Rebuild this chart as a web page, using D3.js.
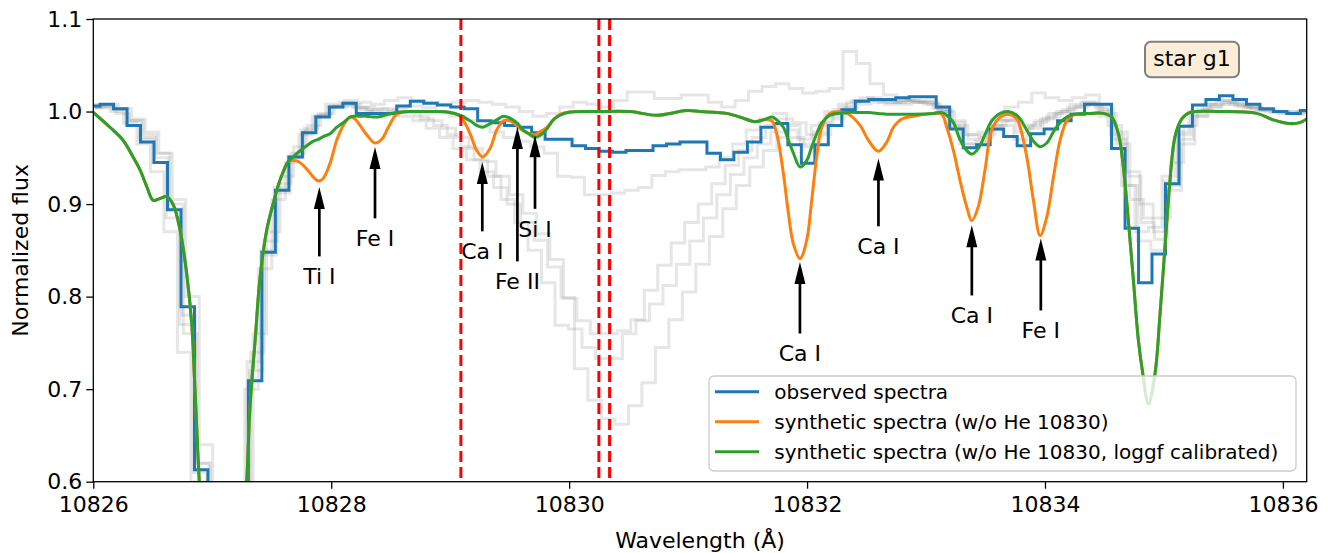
<!DOCTYPE html>
<html>
<head lang="en">
<meta charset="UTF-8">
<title>star g1 spectrum</title>
<script src="https://cdnjs.cloudflare.com/ajax/libs/d3/7.8.5/d3.min.js"></script>
<style>
body { margin: 0; background: white; }
svg text { font-family: "DejaVu Sans", sans-serif; fill: black; }
</style>
</head>
<body>
<div id="chart"></div>
<script>

// observed pixel grid (Angstrom)
var obsWave = [10826.000, 10826.113, 10826.227, 10826.340, 10826.453, 10826.567, 10826.680, 10826.794, 10826.907,
    10827.020, 10827.134, 10827.247, 10827.360, 10827.474, 10827.587, 10827.701, 10827.814, 10827.927,
    10828.041, 10828.154, 10828.267, 10828.381, 10828.494, 10828.608, 10828.721, 10828.834, 10828.948,
    10829.061, 10829.174, 10829.288, 10829.401, 10829.514, 10829.628, 10829.741, 10829.855, 10829.968,
    10830.081, 10830.195, 10830.308, 10830.421, 10830.535, 10830.648, 10830.762, 10830.875, 10830.988,
    10831.102, 10831.215, 10831.328, 10831.442, 10831.555, 10831.669, 10831.782, 10831.895,
    10832.009, 10832.122, 10832.235, 10832.349, 10832.462, 10832.575, 10832.689, 10832.802, 10832.916,
    10833.029, 10833.142, 10833.256, 10833.369, 10833.482, 10833.596, 10833.709, 10833.823, 10833.936,
    10834.049, 10834.163, 10834.276, 10834.389, 10834.503, 10834.616, 10834.730, 10834.843, 10834.956,
    10835.070, 10835.183, 10835.296, 10835.410, 10835.523, 10835.637, 10835.750, 10835.863, 10835.977,
    10836.090, 10836.203];

// star g1, observed
var obsFlux = [1.006, 1.008, 1.003, 0.985, 0.967, 0.945, 0.894, 0.789, 0.613,
    0.50, 0.44, 0.52, 0.709, 0.848, 0.915, 0.951, 0.977, 0.994,
    1.005, 1.009, 0.998, 0.998, 0.998, 1.006, 1.011, 1.009, 1.007,
    1.005, 1.003, 0.990, 0.988, 0.985, 0.983, 0.977, 0.970, 0.970,
    0.963, 0.960, 0.957, 0.956, 0.958, 0.958, 0.963, 0.965, 0.967,
    0.967, 0.955, 0.948, 0.956, 0.967, 0.983, 0.987, 0.964,
    0.944, 0.964, 0.985, 1.002, 1.011, 1.013, 1.013, 1.015, 1.016,
    1.016, 1.005, 0.981, 0.961, 0.964, 0.981, 0.973, 0.963, 0.976,
    0.981, 0.990, 0.997, 1.008, 1.008, 0.960, 0.874, 0.815, 0.846,
    0.922, 0.984, 1.007, 1.013, 1.017, 1.013, 1.008, 1.003, 1.000,
    0.998, 1.001];

// other stars of the group (grey), each with its own small wavelength offset
var grayShift = [0.02, -0.03, 0.04, -0.01, 0.01];

var grayFlux1 = [1.004, 1.005, 0.998, 0.990, 0.975, 0.955, 0.900, 0.760, 0.620,
    0.50, 0.45, 0.56, 0.740, 0.860, 0.922, 0.955, 0.982, 0.997,
    1.004, 1.006, 1.002, 0.998, 0.996, 0.995, 0.990, 0.982, 0.972,
    0.960, 0.948, 0.935, 0.918, 0.900, 0.880, 0.861, 0.832, 0.799,
    0.722, 0.688, 0.668, 0.662, 0.682, 0.707, 0.745, 0.775, 0.805,
    0.835, 0.865, 0.895, 0.920, 0.940, 0.958, 0.972, 0.972,
    0.962, 0.975, 0.992, 1.004, 1.008, 1.010, 1.008, 1.008, 1.010,
    1.010, 1.002, 0.990, 0.975, 0.972, 0.985, 0.990, 0.982, 0.988,
    0.995, 1.000, 1.005, 1.008, 1.002, 0.978, 0.930, 0.880, 0.862,
    0.915, 0.965, 0.995, 1.005, 1.010, 1.008, 1.005, 1.002, 1.000,
    0.998, 0.999];

var grayFlux2 = [1.008, 1.004, 1.000, 0.988, 0.965, 0.935, 0.870, 0.740, 0.600,
    0.48, 0.44, 0.55, 0.700, 0.830, 0.905, 0.945, 0.975, 0.995,
    1.008, 1.010, 1.004, 1.000, 1.000, 1.002, 1.000, 0.992, 0.985,
    0.975, 0.962, 0.948, 0.930, 0.905, 0.880, 0.850, 0.815, 0.769,
    0.765, 0.745, 0.733, 0.733, 0.760, 0.774, 0.792, 0.812, 0.835,
    0.860, 0.885, 0.910, 0.932, 0.950, 0.965, 0.978, 0.980,
    0.970, 0.985, 1.000, 1.008, 1.012, 1.012, 1.010, 1.010, 1.012,
    1.010, 1.004, 0.985, 0.965, 0.965, 0.980, 0.985, 0.970, 0.982,
    0.992, 0.998, 1.004, 1.010, 1.005, 0.985, 0.920, 0.870, 0.875,
    0.930, 0.978, 1.000, 1.008, 1.012, 1.008, 1.004, 1.001, 0.999,
    0.998, 1.000];

var grayFlux3 = [1.006, 1.008, 1.003, 0.992, 0.978, 0.955, 0.905, 0.800, 0.640,
    0.50, 0.46, 0.58, 0.760, 0.870, 0.930, 0.962, 0.985, 0.998,
    1.006, 1.008, 1.005, 1.003, 1.000, 1.000, 0.995, 0.990, 0.982,
    0.972, 0.960, 0.946, 0.930, 0.910, 0.890, 0.868, 0.840, 0.798,
    0.774, 0.760, 0.760, 0.763, 0.775, 0.807, 0.834, 0.858, 0.880,
    0.900, 0.922, 0.942, 0.958, 0.972, 0.985, 0.992, 0.988,
    0.975, 0.988, 1.002, 1.010, 1.015, 1.012, 1.010, 1.012, 1.010,
    1.008, 1.000, 0.985, 0.970, 0.975, 0.990, 0.992, 0.985, 0.990,
    0.998, 1.002, 1.006, 1.008, 0.998, 0.965, 0.905, 0.885, 0.885,
    0.945, 0.985, 1.002, 1.008, 1.010, 1.006, 1.002, 1.000, 0.998,
    0.997, 0.998];

var grayFlux4 = [1.005, 1.007, 1.002, 0.985, 0.970, 0.945, 0.885, 0.770, 0.610,
    0.49, 0.45, 0.57, 0.730, 0.850, 0.918, 0.952, 0.980, 0.996,
    1.005, 1.008, 1.004, 1.002, 1.003, 1.005, 1.006, 1.004, 1.000,
    0.995, 0.990, 0.985, 0.978, 0.972, 0.968, 0.962, 0.955, 0.930,
    0.929, 0.910, 0.910, 0.912, 0.915, 0.918, 0.931, 0.935, 0.937,
    0.937, 0.940, 0.950, 0.965, 0.980, 0.992, 0.998, 0.985,
    0.965, 0.978, 0.995, 1.005, 1.012, 1.015, 1.012, 1.010, 1.012,
    1.012, 1.003, 0.983, 0.965, 0.968, 0.985, 0.990, 0.978, 0.985,
    0.993, 1.000, 1.008, 1.010, 1.000, 0.975, 0.920, 0.860, 0.850,
    0.925, 0.975, 0.998, 1.008, 1.012, 1.010, 1.005, 1.002, 1.000,
    0.999, 1.000];

var grayFlux5 = [1.004, 1.006, 1.003, 0.990, 0.972, 0.950, 0.895, 0.780, 0.620,
    0.50, 0.45, 0.56, 0.720, 0.845, 0.912, 0.950, 0.978, 0.995,
    1.006, 1.012, 1.010, 1.008, 1.012, 1.015, 1.012, 1.010, 1.008,
    1.010, 1.012, 1.010, 1.008, 1.005, 1.000, 0.995, 0.998, 1.005,
    1.010, 1.008, 1.005, 1.012, 1.021, 1.021, 1.014, 1.014, 1.018,
    1.018, 1.010, 1.005, 1.012, 1.022, 1.027, 1.030, 1.025,
    1.020, 1.022, 1.025, 1.065, 1.052, 1.030, 1.018, 1.012, 1.010,
    1.008, 1.000, 0.988, 0.975, 0.978, 0.992, 1.005, 1.010, 1.020,
    1.015, 1.012, 1.015, 1.018, 0.995, 0.970, 0.935, 0.900, 0.870,
    0.920, 0.970, 0.995, 1.005, 1.008, 1.006, 1.004, 1.002, 1.000,
    1.000, 1.000];

var grayFlux = [grayFlux1, grayFlux2, grayFlux3, grayFlux4, grayFlux5];

// synthetic spectra
var synWave = [10826.000, 10826.140, 10826.250, 10826.334, 10826.393, 10826.449, 10826.504, 10826.561,
    10826.617, 10826.673, 10826.729, 10826.785, 10826.827, 10826.855, 10826.891, 10826.939, 10827.006,
    10827.090, 10827.174, 10827.242, 10827.290, 10827.317, 10827.360, 10827.402, 10827.458, 10827.513,
    10827.570, 10827.639, 10827.681, 10827.723, 10827.794, 10827.850, 10827.892, 10827.934, 10827.990,
    10828.046, 10828.102, 10828.158, 10828.200, 10828.242, 10828.298, 10828.368, 10828.425, 10828.480,
    10828.551, 10828.662, 10828.831, 10828.971, 10829.083, 10829.167, 10829.223, 10829.274, 10829.335,
    10829.391, 10829.447, 10829.503, 10829.559, 10829.615, 10829.671, 10829.713, 10829.755, 10829.812,
    10829.867, 10829.924, 10830.008, 10830.235, 10830.512, 10830.736, 10830.989, 10831.100, 10831.325,
    10831.437, 10831.563, 10831.633, 10831.703, 10831.745, 10831.801, 10831.843, 10831.885, 10831.941,
    10831.997, 10832.039, 10832.081, 10832.124, 10832.193, 10832.334, 10832.446, 10832.515, 10832.599,
    10832.670, 10832.726, 10832.796, 10832.894, 10833.062, 10833.132, 10833.174, 10833.230, 10833.285,
    10833.342, 10833.384, 10833.439, 10833.496, 10833.552, 10833.623, 10833.692, 10833.763, 10833.791,
    10833.847, 10833.903, 10833.959, 10834.015, 10834.071, 10834.127, 10834.183, 10834.239, 10834.379,
    10834.491, 10834.561, 10834.617, 10834.659, 10834.701, 10834.743, 10834.785, 10834.822, 10834.869,
    10834.925, 10834.967, 10835.009, 10835.051, 10835.093, 10835.150, 10835.219, 10835.471, 10835.780,
    10835.920, 10836.058, 10836.142, 10836.201];

// w/o He 10830
var synFlux = [0.999, 0.983, 0.969, 0.951, 0.937, 0.919, 0.904, 0.906,
    0.908, 0.899, 0.872, 0.825, 0.771, 0.699, 0.600, 0.500, 0.400,
    0.350, 0.400, 0.500, 0.600, 0.680, 0.752, 0.821, 0.872, 0.901,
    0.926, 0.946, 0.947, 0.946, 0.938, 0.929, 0.925, 0.928, 0.944,
    0.969, 0.985, 0.994, 0.992, 0.985, 0.975, 0.966, 0.970, 0.983,
    0.997, 1.000, 1.000, 0.9995, 0.995, 0.976, 0.958, 0.951, 0.960,
    0.980, 0.990, 0.990, 0.985, 0.979, 0.976, 0.975, 0.978, 0.983,
    0.991, 0.997, 0.9995, 1.000, 1.000, 0.996, 1.001, 1.000, 0.998,
    0.994, 0.989, 0.991, 0.990, 0.976, 0.933, 0.890, 0.857, 0.841,
    0.861, 0.904, 0.951, 0.983, 0.998, 0.998, 0.985, 0.969, 0.957,
    0.967, 0.983, 0.992, 0.995, 0.998, 0.997, 0.983, 0.958, 0.926,
    0.897, 0.882, 0.897, 0.937, 0.980, 0.994, 0.997, 0.992, 0.983,
    0.951, 0.904, 0.866, 0.886, 0.929, 0.969, 0.990, 0.996, 0.998,
    0.998, 0.994, 0.976, 0.940, 0.882, 0.818, 0.753, 0.717, 0.684,
    0.717, 0.781, 0.854, 0.926, 0.973, 0.992, 0.999, 1.000, 0.998,
    0.991, 0.987, 0.988, 0.992];

// w/o He 10830, loggf calibrated
var synCalFlux = [0.999, 0.983, 0.969, 0.951, 0.937, 0.919, 0.904, 0.906,
    0.908, 0.899, 0.872, 0.825, 0.771, 0.699, 0.600, 0.500, 0.400,
    0.350, 0.400, 0.500, 0.600, 0.680, 0.752, 0.821, 0.872, 0.901,
    0.926, 0.946, 0.951, 0.956, 0.963, 0.968, 0.970, 0.973, 0.976,
    0.983, 0.988, 0.994, 0.995, 0.995, 0.995, 0.994, 0.995, 0.997,
    0.999, 1.000, 1.000, 0.9995, 0.996, 0.990, 0.985, 0.983, 0.987,
    0.991, 0.995, 0.993, 0.988, 0.980, 0.975, 0.972, 0.974, 0.981,
    0.991, 0.996, 0.9995, 1.000, 1.000, 0.996, 1.001, 1.000, 0.998,
    0.994, 0.989, 0.991, 0.994, 0.991, 0.983, 0.969, 0.955, 0.940,
    0.947, 0.962, 0.976, 0.988, 0.996, 0.999, 0.999, 0.999, 0.998,
    0.997, 0.997, 0.997, 0.997, 0.998, 0.999, 0.996, 0.988, 0.970,
    0.958, 0.954, 0.960, 0.975, 0.990, 0.998, 1.000, 0.996, 0.992,
    0.980, 0.968, 0.962, 0.966, 0.978, 0.988, 0.994, 0.997, 0.998,
    0.998, 0.994, 0.976, 0.940, 0.882, 0.818, 0.753, 0.717, 0.684,
    0.717, 0.781, 0.854, 0.926, 0.973, 0.992, 0.999, 1.000, 0.998,
    0.991, 0.987, 0.988, 0.992];

// He I 10830 triplet
var heLines = [10829.09, 10830.25, 10830.34];

// line identifications: wavelength, arrow tip flux, text baseline flux
var lineNames = ["Ti I", "Fe I", "Ca I", "Fe II", "Si I", "Ca I", "Ca I", "Ca I", "Fe I"];
var lineWave = [10827.90, 10828.368, 10829.27, 10829.565, 10829.713, 10831.94, 10832.60, 10833.385, 10833.965];
var lineTip = [0.9185, 0.9618, 0.9456, 0.9834, 0.9745, 0.8373, 0.9492, 0.8771, 0.8627];
var lineText = [0.8132, 0.8543, 0.8403, 0.8078, 0.8646, 0.7299, 0.8457, 0.7710, 0.7548];

var xTicks = [10826, 10828, 10830, 10832, 10834, 10836];
var yTicks = [0.6, 0.7, 0.8, 0.9, 1.0, 1.1];
var legendLabels = ["observed spectra", "synthetic spectra (w/o He 10830)",
    "synthetic spectra (w/o He 10830, loggf calibrated)"];
var legendColors = ["#1f77b4", "#ff7f0e", "#2ca02c"];

var svgWidth = 1331, svgHeight = 553;
var margin = {top: 19, right: 24.3, bottom: 71.3, left: 93.3};
var w = svgWidth - margin.left - margin.right,
    h = svgHeight - margin.top - margin.bottom;

var svg = d3.select('#chart').append('svg')
    .attr('width', svgWidth)
    .attr('height', svgHeight);

var x = d3.scaleLinear().domain([10826, 10836.2]).range([0, w]);
var y = d3.scaleLinear().domain([0.6, 1.1]).range([h, 0]);

svg.append('defs').append('clipPath').attr('id', 'plotclip')
    .append('rect').attr('width', w).attr('height', h);

var g = svg.append('g').attr('transform', 'translate(' + margin.left + ',' + margin.top + ')');
var plot = g.append('g').attr('clip-path', 'url(#plotclip)');

var stepLine = function(shift) {
    return d3.line()
        .x(function(d, i) { return x(obsWave[i] + shift); })
        .y(function(d) { return y(d); })
        .curve(d3.curveStep);
};

grayFlux.forEach(function(f, j) {
    plot.append('path').datum(f)
        .attr('d', stepLine(grayShift[j]))
        .attr('fill', 'none')
        .attr('stroke', '#808080')
        .attr('stroke-opacity', 0.2)
        .attr('stroke-width', 3);
});

plot.append('path').datum(obsFlux)
    .attr('d', stepLine(0))
    .attr('fill', 'none')
    .attr('stroke', legendColors[0])
    .attr('stroke-width', 3);

var smooth = d3.line()
    .x(function(d, i) { return x(synWave[i]); })
    .y(function(d) { return y(d); })
    .curve(d3.curveCatmullRom.alpha(0.5));

plot.append('path').datum(synFlux)
    .attr('d', smooth)
    .attr('fill', 'none')
    .attr('stroke', legendColors[1])
    .attr('stroke-width', 3);

plot.append('path').datum(synCalFlux)
    .attr('d', smooth)
    .attr('fill', 'none')
    .attr('stroke', legendColors[2])
    .attr('stroke-width', 3);

plot.selectAll('.he').data(heLines).enter().append('line')
    .attr('x1', function(d) { return x(d); })
    .attr('x2', function(d) { return x(d); })
    .attr('y1', 0).attr('y2', h)
    .attr('stroke', '#ff0000')
    .attr('stroke-width', 3)
    .attr('stroke-dasharray', '11,5');

// axes
var xAxis = d3.axisBottom(x).tickValues(xTicks).tickFormat(d3.format('d')).tickSize(7).tickPadding(8);
var yAxis = d3.axisLeft(y).tickValues(yTicks).tickFormat(d3.format('.1f')).tickSize(7).tickPadding(4);

var gx = g.append('g').attr('transform', 'translate(0,' + h + ')').call(xAxis);
var gy = g.append('g').call(yAxis);
[gx, gy].forEach(function(a) {
    a.select('.domain').remove();
    a.selectAll('line').attr('stroke', 'black').attr('stroke-width', 1.3);
    a.selectAll('text').attr('font-size', 22).attr('font-family', 'DejaVu Sans').attr('fill', 'black');
});

g.append('rect').attr('width', w).attr('height', h)
    .attr('fill', 'none').attr('stroke', 'black').attr('stroke-width', 1.3);

g.append('text')
    .attr('x', w / 2).attr('y', 529)
    .attr('text-anchor', 'middle').attr('font-size', 22)
    .text('Wavelength (Å)');

g.append('text')
    .attr('transform', 'translate(' + (28 - margin.left) + ',' + (h / 2) + ') rotate(-90)')
    .attr('text-anchor', 'middle').attr('font-size', 22)
    .text('Normalized flux');

// line ids with arrows
var ann = g.append('g');
lineNames.forEach(function(name, i) {
    var ax = x(lineWave[i]), tip = y(lineTip[i]), base = y(lineText[i]);
    var tail = base - 16 - 12;
    var headLen = 22, headW = 5.5;
    ann.append('line')
        .attr('x1', ax).attr('x2', ax)
        .attr('y1', tail).attr('y2', tip + headLen - 1)
        .attr('stroke', 'black').attr('stroke-width', 2.7);
    ann.append('path')
        .attr('d', 'M' + ax + ',' + tip + 'L' + (ax - headW) + ',' + (tip + headLen) +
            'L' + (ax + headW) + ',' + (tip + headLen) + 'Z')
        .attr('fill', 'black');
    ann.append('text')
        .attr('x', ax).attr('y', base)
        .attr('text-anchor', 'middle').attr('font-size', 22)
        .text(name);
});

// star label box
var star = g.append('g').attr('transform', 'translate(' + (1145 - margin.left) + ',' + (41.7 - margin.top) + ')');
star.append('rect').attr('width', 94).attr('height', 35.6).attr('rx', 6)
    .attr('fill', '#f5deb3').attr('fill-opacity', 0.5)
    .attr('stroke', '#808080').attr('stroke-width', 2);
star.append('text').attr('x', 47).attr('y', 24.5)
    .attr('text-anchor', 'middle').attr('font-size', 22)
    .text('star g1');

// legend
var leg = g.append('g').attr('transform', 'translate(' + (709 - margin.left) + ',' + (376 - margin.top) + ')');
leg.append('rect').attr('width', 587).attr('height', 95).attr('rx', 5)
    .attr('fill', 'white').attr('fill-opacity', 0.8)
    .attr('stroke', '#cccccc').attr('stroke-width', 1.3);
legendLabels.forEach(function(lab, i) {
    var ly = 15.7 + i * 30;
    leg.append('line').attr('x1', 6).attr('x2', 50).attr('y1', ly).attr('y2', ly)
        .attr('stroke', legendColors[i]).attr('stroke-width', 3);
    leg.append('text').attr('x', 65.3).attr('y', ly + 7)
        .attr('font-size', 20).text(lab);
});

</script>
</body>
</html>
